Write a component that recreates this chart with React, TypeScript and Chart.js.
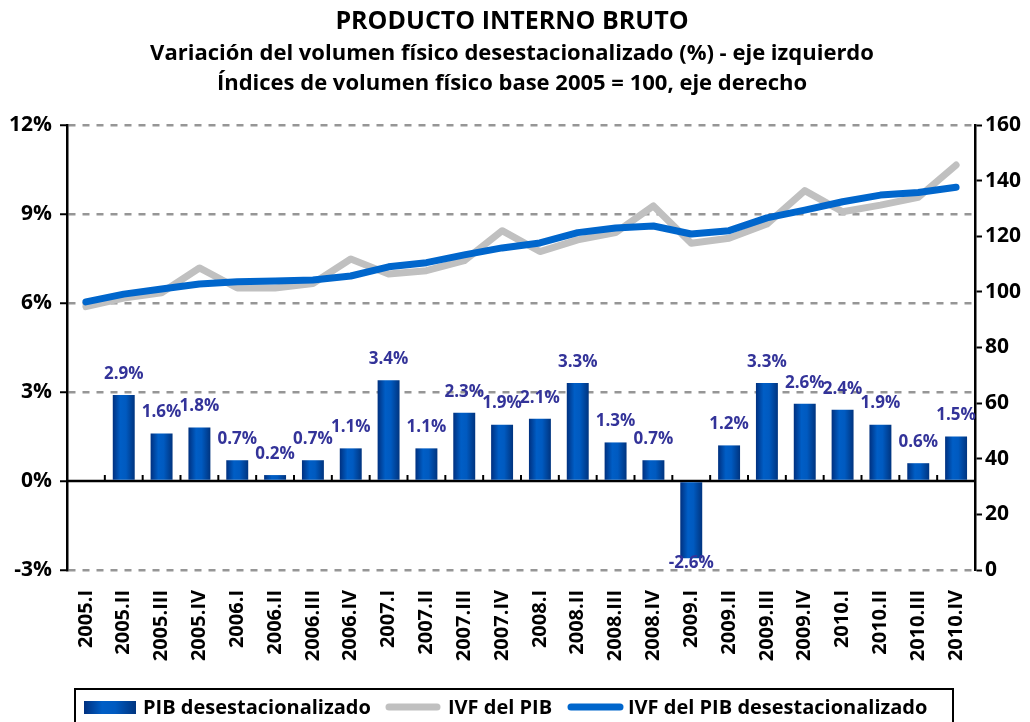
import React, { useEffect, useRef } from "react";
import { Chart, registerables } from "chart.js";

Chart.register(...registerables);

const categories = [
  "2005.I", "2005.II", "2005.III", "2005.IV",
  "2006.I", "2006.II", "2006.III", "2006.IV",
  "2007.I", "2007.II", "2007.III", "2007.IV",
  "2008.I", "2008.II", "2008.III", "2008.IV",
  "2009.I", "2009.II", "2009.III", "2009.IV",
  "2010.I", "2010.II", "2010.III", "2010.IV",
];

const pibDesestacionalizado = [
  null, 2.9, 1.6, 1.8,
  0.7, 0.2, 0.7, 1.1,
  3.4, 1.1, 2.3, 1.9,
  2.1, 3.3, 1.3, 0.7,
  -2.6, 1.2, 3.3, 2.6,
  2.4, 1.9, 0.6, 1.5,
];

const ivfPib = [
  94.7, 97.8, 99.7, 108.6,
  101.4, 101.4, 103.0, 111.8,
  106.4, 107.6, 111.2, 122.0,
  114.5, 118.7, 121.3, 130.9,
  117.5, 119.3, 124.4, 136.4,
  128.8, 131.2, 134.0, 145.6,
];

const ivfPibDesest = [
  96.4, 99.2, 101.0, 102.8,
  103.6, 103.9, 104.3, 105.7,
  109.0, 110.5, 113.3, 115.8,
  117.6, 121.3, 123.0, 123.7,
  120.8, 122.0, 126.6, 129.4,
  132.4, 134.8, 135.7, 137.6,
];

const titleLines = [
  "PRODUCTO INTERNO BRUTO",
  "Variación del volumen físico desestacionalizado (%) - eje izquierdo",
  "Índices de volumen físico base 2005 = 100, eje derecho",
];

const legendLabels = [
  "PIB desestacionalizado",
  "IVF del PIB",
  "IVF del PIB desestacionalizado",
];

const FONT = "'Open Sans', 'DejaVu Sans', sans-serif";
const BLUE = "#0066cc";
const GRAY = "#c0c0c0";
const LABEL_COLOR = "#333399";

function barGradient(ctx: CanvasRenderingContext2D, x0: number, x1: number) {
  const g = ctx.createLinearGradient(x0, 0, x1, 0);
  g.addColorStop(0, "#00307f");
  g.addColorStop(0.35, "#005ec6");
  g.addColorStop(0.6, "#005ac0");
  g.addColorStop(1, "#00347f");
  return g;
}

const decorPlugin = {
  id: "decor",
  beforeDatasetsDraw(chart: any) {
    const { ctx, chartArea, scales } = chart;
    const y0 = scales.y.getPixelForValue(0);
    ctx.save();
    ctx.strokeStyle = "#000";
    ctx.lineWidth = 2.5;
    ctx.beginPath();
    ctx.moveTo(chartArea.left, y0);
    ctx.lineTo(chartArea.right, y0);
    ctx.stroke();
    ctx.lineWidth = 2;
    const n = categories.length;
    const step = (chartArea.right - chartArea.left) / n;
    for (let i = 1; i < n; i++) {
      const x = chartArea.left + step * i;
      ctx.beginPath();
      ctx.moveTo(x, y0);
      ctx.lineTo(x, y0 - 6);
      ctx.stroke();
    }
    ctx.restore();
  },
  afterDatasetsDraw(chart: any) {
    const { ctx } = chart;
    const meta = chart.getDatasetMeta(0);
    ctx.save();
    ctx.font = `bold 17px ${FONT}`;
    ctx.fillStyle = LABEL_COLOR;
    ctx.textAlign = "center";
    ctx.textBaseline = "middle";
    meta.data.forEach((el: any, i: number) => {
      const v = pibDesestacionalizado[i];
      if (v === null || v === undefined) return;
      const txt = v.toFixed(1) + "%";
      const y = v >= 0 ? el.y - 21 : el.y + 5;
      ctx.fillText(txt, el.x, y);
    });
    ctx.restore();
  },
  afterDraw(chart: any) {
    const { ctx } = chart;
    ctx.save();
    ctx.fillStyle = "#000";
    ctx.textAlign = "center";
    ctx.textBaseline = "middle";
    ctx.font = `bold 25px ${FONT}`;
    ctx.fillText(titleLines[0], 512, 22);
    ctx.font = `bold 22px ${FONT}`;
    ctx.fillText(titleLines[1], 512, 54);
    ctx.fillText(titleLines[2], 512, 84);

    // legend box
    ctx.strokeStyle = "#000";
    ctx.lineWidth = 2;
    ctx.strokeRect(75, 689, 878, 60);
    const cy = 707;
    ctx.textAlign = "left";
    ctx.font = `bold 20px ${FONT}`;
    // bar swatch
    ctx.fillStyle = barGradient(ctx, 84, 136);
    ctx.fillRect(84, cy - 6, 52, 13);
    ctx.fillStyle = "#000";
    ctx.fillText(legendLabels[0], 143, cy + 1);
    // gray line swatch
    ctx.lineCap = "round";
    ctx.lineWidth = 7;
    ctx.strokeStyle = GRAY;
    ctx.beginPath();
    ctx.moveTo(389, cy);
    ctx.lineTo(437, cy);
    ctx.stroke();
    ctx.fillText(legendLabels[1], 448, cy + 1);
    ctx.strokeStyle = BLUE;
    ctx.beginPath();
    ctx.moveTo(571, cy);
    ctx.lineTo(620, cy);
    ctx.stroke();
    ctx.fillText(legendLabels[2], 628, cy + 1);
    ctx.restore();
  },
};

export default function App() {
  const canvasRef = useRef<HTMLCanvasElement | null>(null);

  useEffect(() => {
    document.body.style.margin = "0";
    const canvas = canvasRef.current;
    if (!canvas) return;
    const chart = new Chart(canvas, {
      type: "bar",
      data: {
        labels: categories,
        datasets: [
          {
            type: "bar",
            label: legendLabels[0],
            data: pibDesestacionalizado as any,
            yAxisID: "y",
            order: 3,
            categoryPercentage: 1,
            barPercentage: 0.58,
            backgroundColor: (c: any) => {
              const ch = c.chart;
              const xs = ch.scales.x;
              if (!xs || !ch.chartArea) return "#005ec6";
              const x = xs.getPixelForValue(c.dataIndex);
              const w = ((ch.chartArea.right - ch.chartArea.left) / categories.length) * 0.58;
              return barGradient(ch.ctx, x - w / 2, x + w / 2);
            },
            borderWidth: 0,
          },
          {
            type: "line",
            label: legendLabels[1],
            data: ivfPib,
            yAxisID: "y1",
            order: 2,
            borderColor: GRAY,
            borderWidth: 7,
            pointRadius: 0,
            tension: 0,
            borderCapStyle: "round",
            borderJoinStyle: "round",
          },
          {
            type: "line",
            label: legendLabels[2],
            data: ivfPibDesest,
            yAxisID: "y1",
            order: 1,
            borderColor: BLUE,
            borderWidth: 7,
            pointRadius: 0,
            tension: 0,
            borderCapStyle: "round",
            borderJoinStyle: "round",
          },
        ] as any,
      },
      options: {
        responsive: false,
        animation: false,
        layout: { padding: { top: 125, left: 0, right: 0, bottom: 0 } },
        plugins: {
          legend: { display: false },
          title: { display: false },
          tooltip: { enabled: false },
        },
        scales: {
          x: {
            offset: true,
            grid: { display: false, drawTicks: false },
            border: { display: false },
            ticks: {
              autoSkip: false,
              maxRotation: 90,
              minRotation: 90,
              padding: 20,
              color: "#000",
              font: { family: FONT, size: 20, weight: "bold" },
            },
            afterFit: (s: any) => {
              s.height = 152;
            },
          },
          y: {
            position: "left",
            min: -3,
            max: 12,
            ticks: {
              stepSize: 3,
              padding: 8,
              color: "#000",
              font: { family: FONT, size: 21, weight: "bold" },
              callback: (v: any) => v + "%",
            },
            grid: {
              color: (c: any) => (c.tick && c.tick.value === 0 ? "rgba(0,0,0,0)" : "#969696"),
              lineWidth: 2.5,
              tickColor: "#000",
              tickWidth: 2,
              tickLength: 7,
              tickBorderDash: [],
            },
            border: { display: true, color: "#000", width: 2.5, dash: [7, 7] },
            afterFit: (s: any) => {
              s.width = 67;
            },
          },
          y1: {
            position: "right",
            min: 0,
            max: 160,
            ticks: {
              stepSize: 20,
              padding: 3,
              color: "#000",
              font: { family: FONT, size: 21, weight: "bold" },
            },
            grid: {
              drawOnChartArea: false,
              tickColor: "#000",
              tickWidth: 2,
              tickLength: 7,
            },
            border: { display: true, color: "#000", width: 2.5 },
            afterFit: (s: any) => {
              s.width = 55;
            },
          },
        },
      } as any,
      plugins: [decorPlugin],
    });
    return () => chart.destroy();
  }, []);

  return (
    <div style={{ width: 1030, height: 722, overflow: "hidden" }}>
      <canvas ref={canvasRef} width={1030} height={722} style={{ display: "block" }} />
    </div>
  );
}
